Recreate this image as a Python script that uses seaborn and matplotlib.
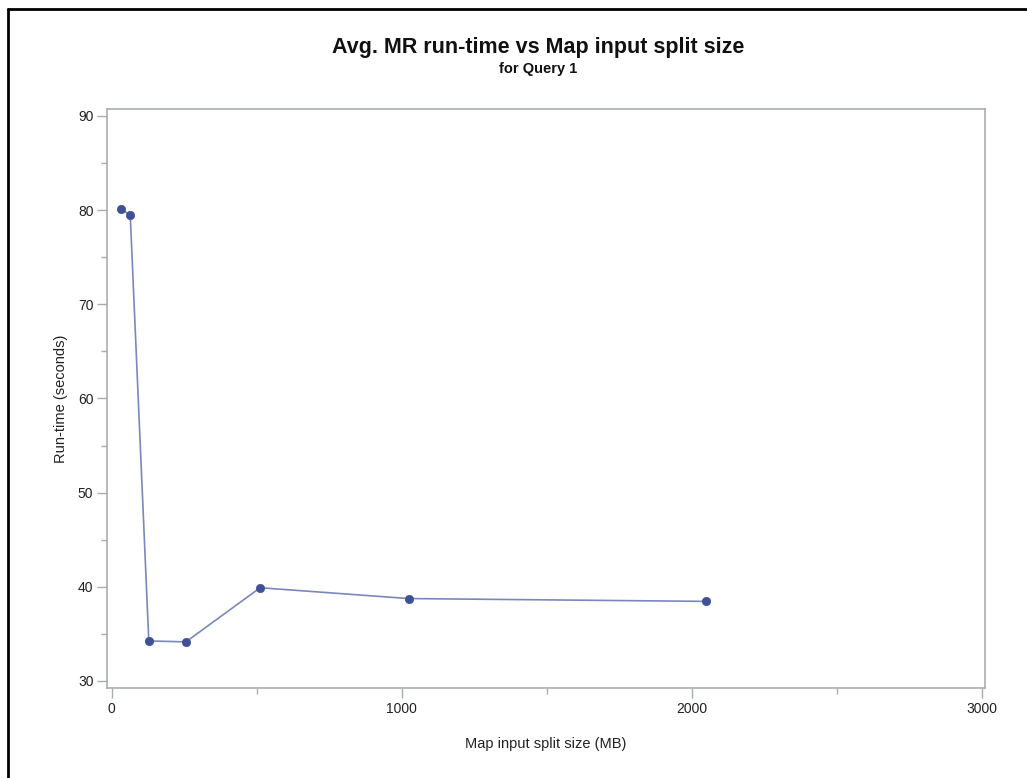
import matplotlib
matplotlib.use("Agg")
import matplotlib.pyplot as plt
from matplotlib.lines import Line2D
from matplotlib.ticker import MultipleLocator
import seaborn as sns
import pandas as pd

# Map input split sizes (MB) and average MapReduce run-times (s)
split_size_mb = [32, 64, 128, 256, 512, 1024, 2048]
run_time_s = [80.1, 79.5, 34.25, 34.15, 39.9, 38.75, 38.45]

title = "Avg. MR run-time vs Map input split size"
subtitle = "for Query 1"
x_label = "Map input split size (MB)"
y_label = "Run-time (seconds)"

sns.set_theme(style="white")
plt.rcParams["font.family"] = ["Liberation Sans", "DejaVu Sans"]

df = pd.DataFrame({"size": split_size_mb, "time": run_time_s})

fig = plt.figure(figsize=(10.27, 7.78), dpi=100)
ax = fig.add_axes([0.1045, 0.1153, 0.8545, 0.7446])

sns.lineplot(data=df, x="size", y="time", ax=ax, color="#7a87bd", linewidth=1.2,
             marker="o", markersize=6, markerfacecolor="#3f5196",
             markeredgecolor="#3f5196", markeredgewidth=0.5)

ax.set_xlim(-15, 3011)
ax.set_ylim(29.22, 90.74)
ax.xaxis.set_major_locator(MultipleLocator(1000))
ax.xaxis.set_minor_locator(MultipleLocator(500))
ax.yaxis.set_major_locator(MultipleLocator(10))
ax.yaxis.set_minor_locator(MultipleLocator(5))

spine_color = "#a9adb2"
for s in ax.spines.values():
    s.set_color(spine_color)
    s.set_linewidth(1.2)

ax.tick_params(axis="both", which="major", direction="out", length=7, width=1,
               color=spine_color, labelsize=10, labelcolor="#222222", pad=3,
               bottom=True, left=True)
ax.tick_params(axis="both", which="minor", direction="out", length=4, width=1,
               color=spine_color, bottom=True, left=True)

ax.set_xlabel(x_label, fontsize=10.5, color="#222222", labelpad=15)
ax.set_ylabel(y_label, fontsize=10.5, color="#222222", labelpad=7)
ax.grid(False)

fig.text(0.524, 0.939, title, ha="center", va="center", fontsize=15.5,
         fontweight="bold", color="#111111")
fig.text(0.524, 0.911, subtitle, ha="center", va="center", fontsize=10.5,
         fontweight="bold", color="#111111")

# Outer frame on the top and left edges
fig.add_artist(Line2D([8 / 1027, 1.0], [1 - 9 / 778, 1 - 9 / 778],
                      transform=fig.transFigure, color="black", linewidth=2))
fig.add_artist(Line2D([8 / 1027, 8 / 1027], [0.0, 1 - 9 / 778],
                      transform=fig.transFigure, color="black", linewidth=2))

fig.savefig("out.png", dpi=100)
